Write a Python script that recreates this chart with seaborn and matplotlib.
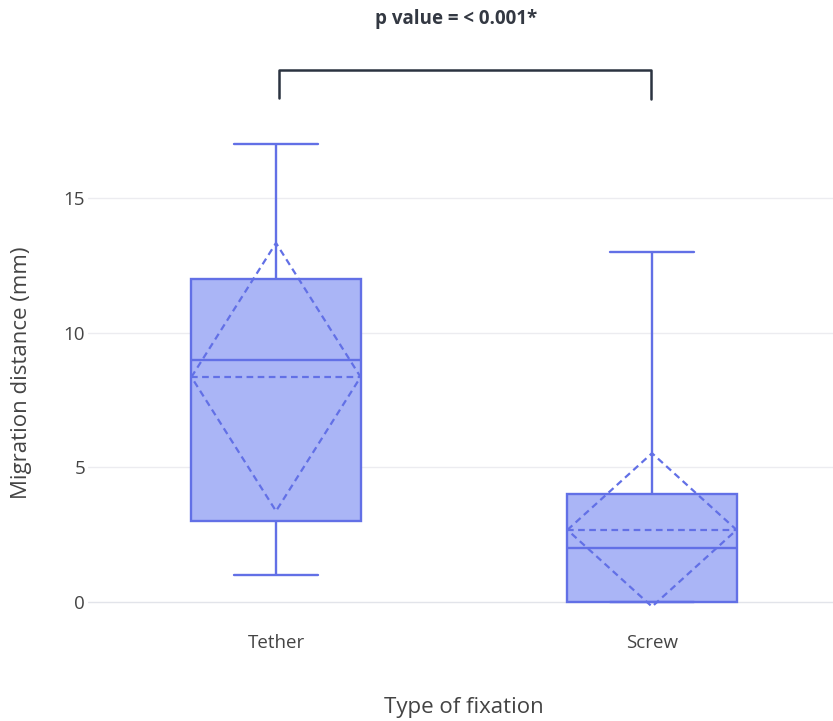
import numpy as np
import pandas as pd
import seaborn as sns
import matplotlib.pyplot as plt
from matplotlib.lines import Line2D

# Five-number summaries per fixation type (min, Q1, median, Q3, max)
groups = ["Tether", "Screw"]
tether_summary = [1, 3, 9, 12, 17]
screw_summary = [0, 0, 2, 4, 13]
means = [8.35, 2.67]
sds = [4.98, 2.85]
y_ticks = [0, 5, 10, 15]
title_text = "p value = < 0.001*"

LINE = "#6270e6"
FILL = "#aab5f6"
TEXT = "#444444"
GRID = "#ececf0"

df = pd.DataFrame({
    "fixation": ["Tether"] * len(tether_summary) + ["Screw"] * len(screw_summary),
    "distance": tether_summary + screw_summary,
})

sns.set_theme(style="white")
plt.rcParams["font.family"] = ["Open Sans", "DejaVu Sans"]

fig = plt.figure(figsize=(8.33, 7.21), dpi=100)
ax = fig.add_axes([88 / 833, (721 - 626) / 721, 752 / 833, 506 / 721])

box_w = 0.45
sns.boxplot(
    data=df, x="fixation", y="distance", order=groups, ax=ax,
    width=box_w, whis=(0, 100), saturation=1, color=FILL,
    linewidth=1.7, linecolor=LINE, showfliers=False,
)
for p in ax.patches:
    p.set_facecolor(FILL)
    p.set_edgecolor(LINE)

# Mean and standard-deviation diamonds
for i, (m, s) in enumerate(zip(means, sds)):
    hw = box_w / 2
    ax.plot([i - hw, i + hw], [m, m], color=LINE, lw=1.6,
            linestyle=(0, (3, 2)), zorder=5)
    ax.plot([i - hw, i, i + hw, i, i - hw], [m, m + s, m, m - s, m],
            color=LINE, lw=1.6, linestyle=(0, (3, 2)), zorder=5)

ax.set_xlim(-0.5, 1.5)
ax.set_ylim(-0.9, 17.9)
ax.set_yticks(y_ticks)
ax.set_yticklabels([str(t) for t in y_ticks])
for t in y_ticks:
    ax.axhline(t, color=GRID if t else "#e2e4ea", lw=1.0, zorder=0)
for sp in ax.spines.values():
    sp.set_visible(False)
ax.tick_params(axis="both", length=0, labelsize=13.5, labelcolor=TEXT)
ax.tick_params(axis="y", pad=2)
ax.tick_params(axis="x", pad=6)
ax.set_xlabel("Type of fixation", fontsize=16, color=TEXT, labelpad=32)
ax.set_ylabel("Migration distance (mm)", fontsize=16, color=TEXT, labelpad=23)

# Significance bracket and title in pixel coordinates of the figure
def fx(px):
    return px / 833

def fy(py):
    return 1 - py / 721

bracket = "#2b3340"
fig.add_artist(Line2D([fx(279), fx(279), fx(651), fx(651)],
                      [fy(98), fy(70), fy(70), fy(99)],
                      color=bracket, lw=1.8, transform=fig.transFigure))
fig.text(fx(456), fy(19), title_text, ha="center", va="center",
         fontsize=13.5, fontweight="bold", color="#333842")

fig.savefig("out.png", dpi=100)
